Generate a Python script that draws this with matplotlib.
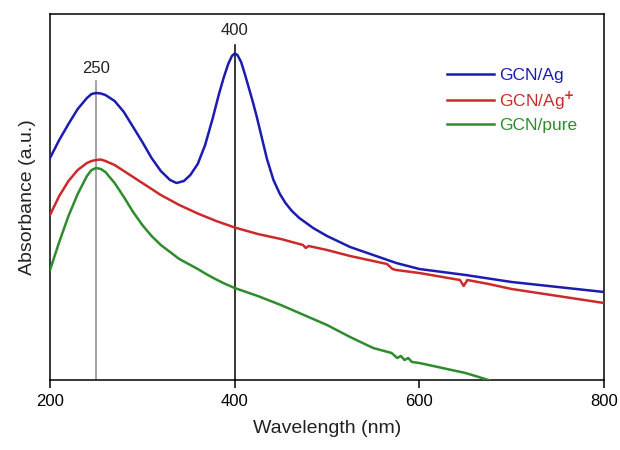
import matplotlib
matplotlib.use("Agg")
import matplotlib.pyplot as plt

plt.rcParams["font.family"] = ["Liberation Sans", "DejaVu Sans"]

# GCN/Ag
wl_ag = [200, 210, 220, 230, 240, 245, 250, 255, 260, 270, 280, 290, 300, 310,
         320, 330, 337, 345, 352, 360, 368, 376, 383, 388, 393, 397, 400, 403,
         407, 411, 416, 420, 424, 430, 435, 442, 449, 455, 462, 470, 485, 500,
         525, 550, 575, 600, 650, 700, 750, 800]
abs_ag = [2.22, 2.40, 2.56, 2.71, 2.82, 2.86, 2.87, 2.865, 2.85, 2.79, 2.68, 2.53,
          2.38, 2.22, 2.09, 2.00, 1.97, 1.99, 2.05, 2.16, 2.35, 2.61, 2.86, 3.02,
          3.16, 3.24, 3.265, 3.25, 3.18, 3.06, 2.90, 2.77, 2.63, 2.40, 2.21, 2.00,
          1.86, 1.77, 1.69, 1.62, 1.52, 1.44, 1.33, 1.25, 1.17, 1.11, 1.05, 0.98,
          0.93, 0.88]

# GCN/Ag+
wl_agp = [200, 210, 220, 230, 240, 245, 250, 255, 260, 270, 280, 290, 300, 320,
          340, 360, 380, 400, 425, 450, 474, 477, 480, 500, 525, 550, 565, 571,
          575, 600, 625, 644, 648, 652, 675, 700, 750, 800]
abs_agp = [1.65, 1.84, 1.99, 2.10, 2.17, 2.19, 2.20, 2.205, 2.19, 2.15, 2.09, 2.03,
           1.97, 1.85, 1.75, 1.665, 1.59, 1.525, 1.46, 1.41, 1.35, 1.32, 1.34,
           1.30, 1.24, 1.19, 1.16, 1.11, 1.10, 1.07, 1.03, 1.00, 0.94, 1.00, 0.96,
           0.91, 0.84, 0.77]

# GCN/pure
wl_pure = [200, 210, 220, 230, 240, 245, 250, 255, 260, 270, 280, 290, 300, 310,
           320, 330, 340, 350, 360, 370, 380, 390, 400, 425, 450, 475, 500, 525,
           550, 570, 576, 580, 584, 588, 592, 600, 625, 650, 675, 700]
abs_pure = [1.10, 1.38, 1.64, 1.86, 2.04, 2.10, 2.12, 2.11, 2.08, 1.97, 1.83,
            1.68, 1.55, 1.44, 1.35, 1.28, 1.21, 1.16, 1.11, 1.055, 1.005, 0.96,
            0.92, 0.84, 0.75, 0.65, 0.55, 0.43, 0.32, 0.27, 0.22, 0.24, 0.20,
            0.22, 0.18, 0.17, 0.12, 0.07, 0.00, -0.08]

peak_wl = [250, 400]
peak_top = [2.99, 3.35]
peak_lbl = ["250", "400"]
peak_lbl_y = [3.12, 3.50]
peak_col = ["#8c8c8c", "black"]

fig = plt.figure(figsize=(6.2, 4.5), dpi=100)
ax = fig.add_axes([50 / 620, 70 / 450, 554 / 620, 366 / 450])

for w, top, lbl, ly, c in zip(peak_wl, peak_top, peak_lbl, peak_lbl_y, peak_col):
    ax.plot([w, w], [0, top], color=c, lw=1.1, zorder=1)
    ax.text(w, ly, lbl, ha="center", va="center", fontsize=12, color="#222222")

ax.plot(wl_ag, abs_ag, color="#1c1cb0", lw=1.8, label="GCN/Ag", zorder=3)
ax.plot(wl_agp, abs_agp, color="#cc2a2a", lw=1.8, label="GCN/Ag$^{\\mathbf{+}}$", zorder=3)
ax.plot(wl_pure, abs_pure, color="#2e8b2e", lw=1.8, label="GCN/pure", zorder=3)

ax.set_xlim(200, 800)
ax.set_ylim(0, 3.66)
ax.set_xticks([200, 400, 600, 800])
ax.set_yticks([])
ax.tick_params(axis="x", direction="out", length=6, width=1.1, labelsize=12, pad=4)
for s in ax.spines.values():
    s.set_linewidth(1.1)

ax.set_xlabel("Wavelength (nm)", fontsize=14, color="#222222", labelpad=8)
ax.set_ylabel("Absorbance (a.u.)", fontsize=14, color="#222222", labelpad=10)

leg = ax.legend(loc="upper left", bbox_to_anchor=(447 / 620, 1 - 68 / 450),
                bbox_transform=fig.transFigure, frameon=False, fontsize=12.5,
                handlelength=2.7, handletextpad=0.3, labelspacing=0.35,
                borderpad=0, borderaxespad=0)
for t, line in zip(leg.get_texts(), leg.get_lines()):
    t.set_color(line.get_color())

fig.savefig("out.png", dpi=100)
